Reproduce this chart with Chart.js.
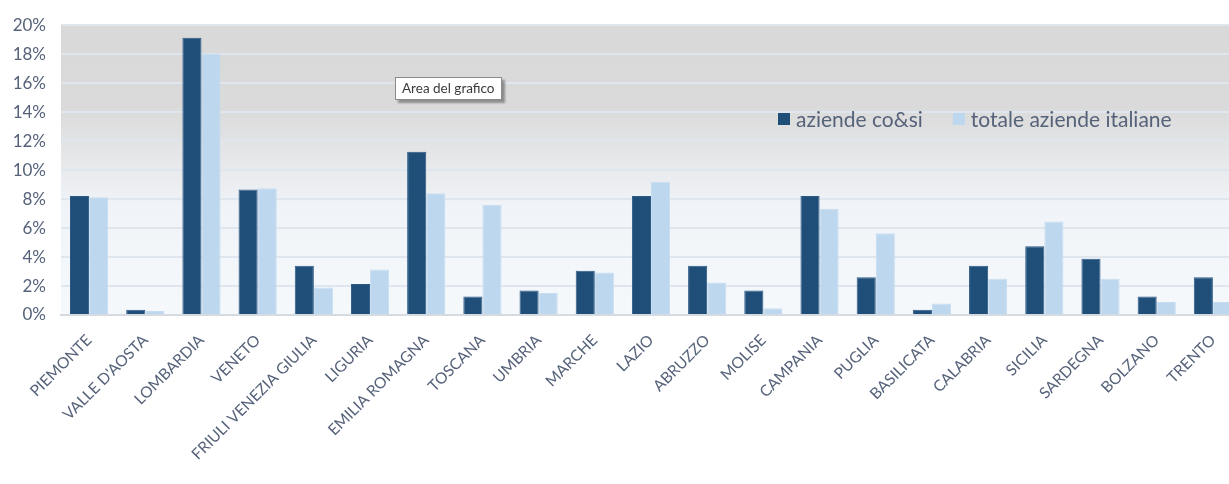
<!DOCTYPE html>
<html lang="it">
<head>
<meta charset="utf-8">
<title>Aziende per regione</title>
<script src="https://cdn.jsdelivr.net/npm/chart.js@4.4.1/dist/chart.umd.min.js"></script>
<style>
    html, body {
        margin: 0;
        padding: 0;
        background: #ffffff;
        overflow: hidden;
    }
    .chart-wrap {
        position: relative;
        width: 1241px;
        height: 484px;
    }
    .chart-tip {
        position: absolute;
        left: 395px;
        top: 77px;
        padding: 2px 6px 3px 6px;
        background: #ffffff;
        border: 1px solid #8a8a8a;
        box-shadow: 3px 3px 2px rgba(0, 0, 0, 0.35);
        font-family: Lato, "Open Sans", sans-serif;
        font-size: 13.5px;
        color: #3a3a3a;
        white-space: nowrap;
    }
</style>
</head>
<body>
<div class="chart-wrap">
    <canvas id="regionChart"></canvas>
    <div class="chart-tip">Area del grafico</div>
</div>
<script>
const regions = [
    "PIEMONTE", "VALLE D'AOSTA", "LOMBARDIA", "VENETO", "FRIULI VENEZIA GIULIA",
    "LIGURIA", "EMILIA ROMAGNA", "TOSCANA", "UMBRIA", "MARCHE", "LAZIO",
    "ABRUZZO", "MOLISE", "CAMPANIA", "PUGLIA", "BASILICATA", "CALABRIA",
    "SICILIA", "SARDEGNA", "BOLZANO", "TRENTO"
];
const cosiShare = [
    8.22, 0.36, 19.14, 8.66, 3.40, 2.14, 11.26, 1.28, 1.69, 3.05, 8.22,
    3.40, 1.69, 8.22, 2.60, 0.36, 3.40, 4.74, 3.88, 1.28, 2.60
];
const italyShare = [
    8.13, 0.27, 18.05, 8.75, 1.89, 3.14, 8.41, 7.61, 1.52, 2.94, 9.20,
    2.24, 0.46, 7.33, 5.65, 0.80, 2.51, 6.45, 2.51, 0.89, 0.89
];
const seriesNames = ["aziende co&si", "totale aziende italiane"];
const seriesColors = ["#1f4e79", "#bdd7ee"];
const yTicks = [0, 2, 4, 6, 8, 10, 12, 14, 16, 18, 20];

const FONT_FAMILY = "Lato, 'Open Sans', sans-serif";
const TEXT_COLOR = "#56627a";

// grey-to-pale gradient behind the plot area
const plotBackground = {
    id: "plotBackground",
    beforeDraw(chart) {
        const {ctx, chartArea: a} = chart;
        const g = ctx.createLinearGradient(0, a.top, 0, a.bottom);
        g.addColorStop(0, "#d9d9d9");
        g.addColorStop(0.28, "#dadada");
        g.addColorStop(0.62, "#f0f3f7");
        g.addColorStop(1, "#f6f9fc");
        ctx.save();
        ctx.fillStyle = g;
        ctx.fillRect(a.left, a.top, a.right - a.left, a.bottom - a.top);
        ctx.restore();
    }
};

// legend drawn inside the plot area, on one row
const innerLegend = {
    id: "innerLegend",
    afterDatasetsDraw(chart) {
        const ctx = chart.ctx;
        let x = 778;
        const y = 119;
        ctx.save();
        ctx.font = "21px " + FONT_FAMILY;
        ctx.textBaseline = "middle";
        chart.data.datasets.forEach((ds) => {
            ctx.fillStyle = ds.backgroundColor;
            ctx.fillRect(x, y - 6, 12, 12);
            ctx.fillStyle = TEXT_COLOR;
            ctx.fillText(ds.label, x + 18, y + 1);
            x += 18 + ctx.measureText(ds.label).width + 30;
        });
        ctx.restore();
    }
};

new Chart(document.getElementById("regionChart").getContext("2d"), {
    type: "bar",
    data: {
        labels: regions,
        datasets: [
            {
                label: seriesNames[0],
                data: cosiShare,
                backgroundColor: seriesColors[0],
                borderColor: "#2c5a86",
                borderWidth: 1,
                categoryPercentage: 0.68,
                barPercentage: 1.0,
            },
            {
                label: seriesNames[1],
                data: italyShare,
                backgroundColor: seriesColors[1],
                borderColor: "#c6ddf1",
                borderWidth: 1,
                categoryPercentage: 0.68,
                barPercentage: 1.0,
            }
        ]
    },
    options: {
        responsive: true,
        maintainAspectRatio: false,
        animation: false,
        layout: {
            padding: {top: 12, right: 0, bottom: 0, left: 0}
        },
        plugins: {
            legend: {display: false},
            tooltip: {enabled: false}
        },
        scales: {
            x: {
                grid: {display: false},
                border: {display: true, color: "#d6dbe2", width: 2},
                ticks: {
                    color: TEXT_COLOR,
                    font: {family: FONT_FAMILY, size: 15.5},
                    minRotation: 45,
                    maxRotation: 45,
                    autoSkip: false,
                    padding: 8,
                },
                afterFit(scale) {
                    scale.height = 169;
                }
            },
            y: {
                min: 0,
                max: 20,
                afterBuildTicks(scale) {
                    scale.ticks = yTicks.map(v => ({value: v}));
                },
                grid: {
                    color: "#dfe6ee",
                    lineWidth: 2,
                    drawTicks: false,
                },
                border: {display: false},
                ticks: {
                    color: TEXT_COLOR,
                    font: {family: FONT_FAMILY, size: 17},
                    padding: 15,
                    callback: (v) => v + "%",
                },
                afterFit(scale) {
                    scale.width = 61;
                }
            }
        }
    },
    plugins: [plotBackground, innerLegend]
});
</script>
</body>
</html>
